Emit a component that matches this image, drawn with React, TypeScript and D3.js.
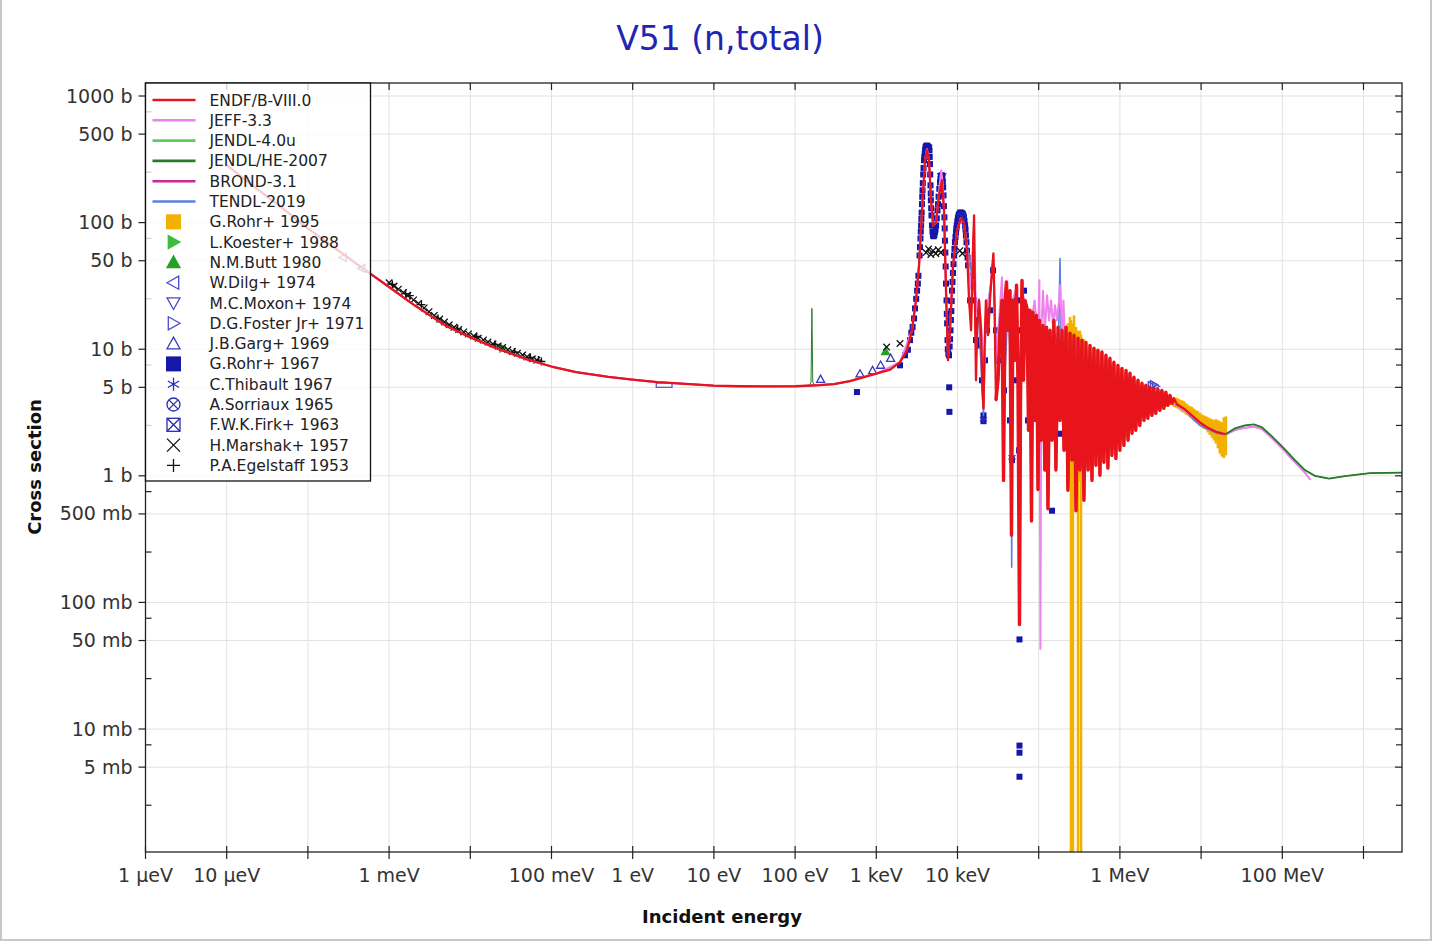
import React from "react";
import * as d3 from "d3";

// energies in eV, cross sections in barns

// 1/v region, shared by all evaluations at this scale
const lowRegion: [number, number][] = [
  [1e-5, 285], [2e-5, 200], [5e-5, 128], [1e-4, 90], [2e-4, 65], [5e-4, 42.5],
  [1e-3, 31], [2e-3, 22.5], [5e-3, 15.3], [1e-2, 12.4], [2e-2, 10.3], [5e-2, 8.3],
  [0.1, 7.3], [0.2, 6.6], [0.5, 6.05], [1, 5.75], [2, 5.5], [5, 5.3], [10, 5.15],
  [20, 5.1], [50, 5.08], [100, 5.1], [200, 5.2], [300, 5.3], [474, 5.6],
];

const endfResonances: [number, number][] = [
  [1.02e3, 6.45], [1.48e3, 6.9], [1.96e3, 7.9], [2.39e3, 9.8], [2.75e3, 14.1], [3.08e3, 24.3],
  [3.36e3, 46], [3.66e3, 125], [3.98e3, 311], [4.21e3, 372], [4.46e3, 311], [4.72e3, 150],
  [5.0e3, 95], [5.44e3, 100], [5.92e3, 164], [6.44e3, 216], [6.82e3, 125], [7.22e3, 29],
  [7.64e3, 8.2], [8.09e3, 14.1], [8.81e3, 46], [9.87e3, 87], [1.1e4, 108], [1.2e4, 100],
];

const endfUnresolved: [number, number][] = [
  [1.31e4, 60], [1.39e4, 24.3], [1.47e4, 14.1], [1.55e4, 60], [1.6e4, 114], [1.64e4, 24.3],
  [1.69e4, 5.68], [1.74e4, 14.1], [1.84e4, 24.3], [1.95e4, 14.1], [2.03e4, 4.73], [2.09e4, 3.41],
  [2.15e4, 9.8], [2.24e4, 24.3], [2.38e4, 12.9], [2.51e4, 24.3], [2.66e4, 42], [2.77e4, 57],
  [2.85e4, 24.3], [2.98e4, 3.95], [3.15e4, 5.68], [3.34e4, 14.1], [3.53e4, 24.3], [3.69e4, 0.92],
  [3.85e4, 24.3], [4.01e4, 34], [4.19e4, 14.1], [4.43e4, 29], [4.62e4, 0.34], [4.82e4, 24.3],
  [5.1e4, 8.17], [5.33e4, 32], [5.56e4, 5.68], [5.8e4, 0.067], [5.97e4, 3.95], [6.23e4, 35],
  [6.5e4, 5.68], [6.78e4, 24.3], [7.18e4, 21], [7.49e4, 2.29], [7.81e4, 20.3], [8.15e4, 0.44],
  [8.51e4, 19.6], [9.0e4, 2.74], [9.4e4, 18.5], [9.8e4, 0.78], [1.02e5, 16.9], [1.07e5, 1.91],
  [1.13e5, 15.4], [1.19e5, 1.11], [1.25e5, 14.9], [1.3e5, 0.55], [1.38e5, 14.1], [1.46e5, 1.91],
  [1.54e5, 16.9], [1.63e5, 1.11], [1.73e5, 14.9], [1.83e5, 2.74], [1.94e5, 14.1], [2.05e5, 1.59],
  [2.17e5, 14.9], [2.29e5, 0.77], [2.43e5, 13.4], [2.57e5, 1.33], [2.72e5, 12.9], [2.88e5, 0.53],
  [3.05e5, 12.2], [3.22e5, 1.11], [3.41e5, 11.8], [3.61e5, 0.64], [3.82e5, 11.3], [4.05e5, 1.11],
  [4.28e5, 10.7], [4.53e5, 0.92], [4.79e5, 10.2], [5.07e5, 1.21], [5.37e5, 9.8], [5.68e5, 1.01],
  [6.01e5, 9.5], [6.36e5, 1.28], [6.73e5, 8.95], [7.12e5, 1.15], [7.54e5, 8.48], [7.98e5, 1.45],
  [8.44e5, 7.88], [8.93e5, 1.37], [9.46e5, 7.46], [1.0e6, 1.59], [1.06e6, 7.06], [1.12e6, 1.74],
  [1.19e6, 6.81], [1.26e6, 1.91], [1.33e6, 6.45], [1.41e6, 2.17], [1.49e6, 6.0], [1.57e6, 2.29],
  [1.67e6, 5.68], [1.76e6, 2.5], [1.87e6, 5.38], [1.98e6, 2.74], [2.09e6, 5.19], [2.21e6, 2.85],
  [2.34e6, 5.0], [2.48e6, 3.0], [2.62e6, 4.91], [2.77e6, 3.12], [2.94e6, 4.82], [3.11e6, 3.29],
  [3.29e6, 4.73], [3.48e6, 3.41], [3.68e6, 4.57], [3.9e6, 3.61], [4.13e6, 4.32], [4.37e6, 3.74],
  [4.62e6, 4.09],
];

const endfFast: [number, number][] = [
  [5.03e6, 3.67], [6.31e6, 3.35], [7.92e6, 2.95], [9.67e6, 2.64], [1.18e7, 2.42],
  [1.4e7, 2.29], [1.57e7, 2.21], [1.86e7, 2.15], [2.0e7, 2.13],
];

const jeffResonances: [number, number][] = [
  [1.02e3, 6.45], [1.96e3, 7.9], [2.75e3, 14.1], [3.08e3, 24.3], [3.36e3, 46], [3.66e3, 125],
  [3.98e3, 311], [4.21e3, 380], [4.46e3, 311], [4.72e3, 150], [5.0e3, 95], [5.44e3, 100],
  [5.92e3, 175], [6.3e3, 259], [6.6e3, 200], [6.9e3, 110], [7.22e3, 29], [7.64e3, 8.5],
  [8.09e3, 14], [8.81e3, 46], [9.87e3, 87], [1.1e4, 108], [1.2e4, 100], [1.31e4, 60],
  [1.47e4, 30], [1.6e4, 90], [1.69e4, 20],
];

const jeffMid: [number, number][] = [
  [1.84e4, 25], [2.0e4, 12], [2.09e4, 4], [2.24e4, 20], [2.51e4, 28], [2.77e4, 50], [2.98e4, 8],
  [3.34e4, 22], [3.53e4, 37], [3.69e4, 5], [4.01e4, 30], [4.43e4, 20], [4.62e4, 2.1], [4.82e4, 25],
  [5.33e4, 30], [5.8e4, 2], [6.23e4, 30], [7.18e4, 19], [7.81e4, 6], [8.51e4, 20], [8.9e4, 24.3],
  [9.8e4, 11.8], [1.02e5, 35], [1.05e5, 0.043], [1.08e5, 14.1], [1.13e5, 29], [1.19e5, 14.1],
  [1.27e5, 26.7], [1.34e5, 16.9], [1.42e5, 24.3], [1.5e5, 15.4], [1.59e5, 22.2], [1.68e5, 16.9],
  [1.78e5, 24.3], [1.83e5, 32], [1.94e5, 14.1], [2.02e5, 24.3], [2.11e5, 10.7], [2.43e5, 5],
  [2.88e5, 12], [4.05e5, 8], [6.0e5, 7], [1.0e6, 5], [1.5e6, 4.6], [2.34e6, 4.2], [3.48e6, 4.0],
];

const jeffHigh: [number, number][] = [
  [5.03e6, 3.65], [7.92e6, 2.9], [1.18e7, 2.4], [2.0e7, 2.12], [2.61e7, 2.3], [3.47e7, 2.4],
  [4.48e7, 2.44], [5.62e7, 2.34], [7.46e7, 1.98], [1.02e8, 1.62], [1.43e8, 1.28], [1.9e8, 1.06],
  [2.22e8, 0.93],
];

const jendlHeSpike: [number, number][] = [
  [150, 5.1], [157, 5.5], [161, 21], [165, 5.5], [175, 5.15],
];

const jendlHeHigh: [number, number][] = [
  [2.61e7, 2.37], [3.47e7, 2.5], [4.48e7, 2.55], [5.62e7, 2.42], [7.46e7, 2.05], [1.02e8, 1.68],
  [1.43e8, 1.33], [1.9e8, 1.11], [2.52e8, 1.0], [3.76e8, 0.95], [5.91e8, 0.996], [1.2e9, 1.05],
  [2.98e9, 1.06],
];

const tendlMid: [number, number][] = [
  [1.84e4, 16], [2.09e4, 3.0], [2.24e4, 18], [2.77e4, 45], [2.98e4, 10], [3.53e4, 25], [3.69e4, 3],
  [4.19e4, 25], [4.55e4, 6], [4.65e4, 0.19], [4.75e4, 6], [5.33e4, 28], [5.8e4, 0.5], [6.23e4, 30],
  [7.49e4, 5], [8.51e4, 18], [9.8e4, 3], [1.13e5, 15], [1.3e5, 2], [1.54e5, 14], [1.75e5, 10],
  [1.83e5, 52], [1.9e5, 10], [2.29e5, 3], [2.72e5, 12], [3.41e5, 2], [4.28e5, 10], [5.68e5, 2.5],
  [7.54e5, 8], [1.0e6, 3.2], [1.33e6, 6], [1.76e6, 4.5], [2.34e6, 4.2],
];

const tendlHigh: [number, number][] = [
  [3.11e6, 4.1], [3.9e6, 3.9], [5.03e6, 3.6], [6.31e6, 3.25], [7.92e6, 2.8], [9.67e6, 2.5],
  [1.18e7, 2.35], [1.57e7, 2.17], [2.0e7, 2.12], [2.61e7, 2.3], [3.47e7, 2.4], [4.48e7, 2.44],
  [5.62e7, 2.35], [7.46e7, 2.0], [1.02e8, 1.63], [1.43e8, 1.3], [2.0e8, 1.02],
];

// experimental data
// G.Rohr+ 1995: [E, low, high] of each error bar
const rohr1995: [number, number, number][] = [
  [2.29e5, 0.8, 16], [2.43e5, 0.9, 18], [2.5e5, 1e-4, 17], [2.64e5, 1e-4, 16], [2.72e5, 0.7, 18.5],
  [2.88e5, 1.0, 15], [3.05e5, 1e-4, 14], [3.22e5, 0.9, 14], [3.32e5, 1e-4, 13], [3.61e5, 1.0, 12],
  [4.28e5, 1.1, 11], [5.07e5, 1.2, 10], [6.01e5, 1.3, 9.2], [7.12e5, 1.4, 8.3], [8.44e5, 1.6, 7.6],
  [1.0e6, 1.8, 7.0], [1.19e6, 2.0, 6.6], [1.41e6, 2.3, 6.0], [1.67e6, 2.6, 5.6], [1.98e6, 2.9, 5.2],
  [2.34e6, 3.1, 4.9], [2.62e6, 3.2, 4.7], [3.11e6, 3.4, 4.6], [3.68e6, 3.5, 4.4], [4.13e6, 3.6, 4.3],
  [4.62e6, 3.5, 4.2], [4.9e6, 3.45, 4.15], [5.18e6, 3.4, 4.1], [5.48e6, 3.3, 4.0], [5.8e6, 3.2, 3.95],
  [6.14e6, 3.15, 3.9], [6.5e6, 3.05, 3.75], [6.88e6, 3.0, 3.65], [7.28e6, 2.9, 3.55], [7.7e6, 2.85, 3.5],
  [8.15e6, 2.75, 3.4], [8.63e6, 2.65, 3.3], [9.13e6, 2.6, 3.25], [9.66e6, 2.5, 3.15], [1.02e7, 2.45, 3.05],
  [1.08e7, 2.35, 3.0], [1.15e7, 2.3, 2.95], [1.21e7, 2.2, 2.9], [1.28e7, 2.1, 2.85], [1.36e7, 2.0, 2.8],
  [1.44e7, 1.9, 2.75], [1.52e7, 1.8, 2.8], [1.61e7, 1.65, 2.75], [1.7e7, 1.5, 2.7], [1.8e7, 1.42, 2.65],
  [1.91e7, 1.38, 2.9], [2.02e7, 1.45, 2.95],
];

const koester1988: [number, number][] = [[2.53e-2, 10.2]];
const butt1980: [number, number][] = [[1.3e3, 9.6]];
const dilg1974: [number, number][] = [[2.7e-4, 53], [4.6e-4, 43.5]];
const moxon1974: [number, number][] = [[4.3e3, 385], [6.4e3, 230]];
const foster1971: [number, number][] = [[2.45e6, 5.15], [2.6e6, 5.25], [2.75e6, 5.1]];
const garg1969: [number, number][] = [[206, 5.8], [630, 6.4], [900, 6.8], [1.13e3, 7.5], [1.5e3, 8.5]];
const rohr1967: [number, number][] = [
  [578, 4.59], [1.96e3, 7.46], [2.26e3, 8.95], [2.45e3, 9.9], [2.6e3, 11.8], [2.7e3, 13.5],
  [2.8e3, 15], [2.92e3, 17.5], [3.0e3, 21], [3.1e3, 25], [3.18e3, 29], [3.25e3, 33], [3.3e3, 38],
  [3.41e3, 55], [3.45e3, 64], [3.5e3, 75], [3.53e3, 85], [3.56e3, 95], [3.59e3, 107], [3.62e3, 120],
  [3.65e3, 140], [3.68e3, 160], [3.71e3, 180], [3.74e3, 205], [3.78e3, 240], [3.82e3, 270],
  [3.87e3, 311], [3.91e3, 330], [3.95e3, 350], [3.99e3, 375], [4.04e3, 393], [4.1e3, 400],
  [4.15e3, 405], [4.21e3, 405], [4.27e3, 401], [4.34e3, 398], [4.4e3, 395], [4.46e3, 385],
  [4.52e3, 372], [4.55e3, 330], [4.58e3, 290], [4.61e3, 240], [4.65e3, 197], [4.68e3, 170],
  [4.7e3, 150], [4.74e3, 130], [4.78e3, 114], [4.85e3, 95], [4.92e3, 85], [4.99e3, 79],
  [5.1e3, 78], [5.2e3, 80], [5.28e3, 84], [5.37e3, 88], [5.45e3, 95], [5.56e3, 108], [5.67e3, 125],
  [5.76e3, 140], [5.85e3, 160], [5.97e3, 185], [6.09e3, 208], [6.17e3, 222], [6.25e3, 230],
  [6.35e3, 236], [6.44e3, 236], [6.52e3, 228], [6.6e3, 210], [6.66e3, 190], [6.73e3, 164],
  [6.8e3, 135], [6.9e3, 110], [6.96e3, 90], [7.02e3, 72], [7.08e3, 58], [7.15e3, 45], [7.22e3, 33],
  [7.33e3, 24.3], [7.39e3, 19], [7.45e3, 16], [7.54e3, 11.8], [7.6e3, 10], [7.72e3, 9.2],
  [7.86e3, 8.95], [7.9e3, 5], [7.95e3, 3.2], [8.0e3, 10.5], [8.1e3, 12], [8.2e3, 14.1], [8.3e3, 17],
  [8.4e3, 20], [8.48e3, 24], [8.56e3, 29], [8.68e3, 34], [8.8e3, 40], [8.93e3, 47], [9.06e3, 55],
  [9.18e3, 62], [9.3e3, 70], [9.45e3, 77], [9.59e3, 84], [9.7e3, 90], [9.8e3, 95], [9.95e3, 102],
  [1.01e4, 108], [1.025e4, 112], [1.04e4, 115], [1.055e4, 117], [1.07e4, 118], [1.085e4, 120],
  [1.1e4, 120], [1.12e4, 119], [1.14e4, 118], [1.155e4, 117], [1.17e4, 116], [1.185e4, 113],
  [1.2e4, 110], [1.22e4, 103], [1.24e4, 95], [1.255e4, 88], [1.27e4, 79], [1.29e4, 70],
  [1.31e4, 60], [1.33e4, 53], [1.35e4, 46], [1.43e4, 24.3], [1.51e4, 38], [1.6e4, 24.3],
  [1.69e4, 11.8], [1.79e4, 16.9], [1.89e4, 10.7], [2.0e4, 5.68], [2.09e4, 3.0], [2.09e4, 2.7],
  [2.18e4, 8.17], [2.31e4, 14.1], [2.51e4, 20.3], [2.74e4, 42], [2.98e4, 14.1], [3.24e4, 8.17],
  [3.53e4, 11.8], [3.74e4, 4.73], [4.07e4, 16.9], [4.43e4, 2.74], [4.69e4, 1.33], [4.97e4, 5.68],
  [5.41e4, 24.3], [5.73e4, 1.59], [5.8e4, 0.051], [5.8e4, 0.0074], [5.8e4, 0.0065], [5.8e4, 0.0042],
  [6.05e4, 14.1], [6.59e4, 29], [7.39e4, 2.74], [8.28e4, 9.8], [1.46e5, 0.53], [1.88e5, 2.15],
];
const thibault1967: [number, number][] = [[2.09e4, 2.8], [4.69e4, 1.4]];
const sorriaux1965: [number, number][] = [[1.14e4, 112]];
// F.W.K.Firk+ 1963: [E, Elow, Ehigh, sigma, sigmaLow, sigmaHigh]
const firk1963: [number, number, number, number, number, number][] = [[2.45, 1.95, 3.05, 5.2, 5.0, 5.4]];
const marshak1957: [number, number][] = [
  [1.0e-3, 33.5], [1.15e-3, 31.5], [1.3e-3, 29.8], [1.5e-3, 28], [1.7e-3, 26.5], [2.0e-3, 24.5],
  [2.3e-3, 23], [2.7e-3, 21.2], [3.1e-3, 19.8], [3.6e-3, 18.5], [4.2e-3, 17.3], [4.8e-3, 16.4],
  [5.5e-3, 15.6], [6.3e-3, 14.9], [7.2e-3, 14.3], [8.3e-3, 13.7], [9.5e-3, 13.2], [1.1e-2, 12.7],
  [1.25e-2, 12.2], [1.45e-2, 11.8], [1.65e-2, 11.4], [1.9e-2, 11.0], [2.2e-2, 10.6], [2.5e-2, 10.3],
  [2.9e-2, 9.9], [3.3e-2, 9.6], [3.8e-2, 9.3], [4.4e-2, 9.0], [5.0e-2, 8.7], [5.8e-2, 8.4],
  [6.6e-2, 8.2], [1.34e3, 10.4], [1.96e3, 11.1], [4.1e3, 58], [4.4e3, 62], [4.7e3, 56],
  [5.0e3, 60], [5.4e3, 57], [5.8e3, 61], [6.2e3, 58], [1.07e4, 60], [1.15e4, 57],
];
const egelstaff1953: [number, number][] = [
  [1.1e-3, 32.5], [1.6e-3, 27.5], [1.8e-3, 26.5], [2.5e-3, 22.5], [4e-3, 17.5], [7e-3, 14.5],
  [1.2e-2, 12.6], [2e-2, 10.9], [3.5e-2, 9.5], [5.5e-2, 8.6], [6.9e-2, 8.2], [7.5e-2, 8.0],
];

// axis ticks
const yTickValues = [1000, 500, 100, 50, 10, 5, 1, 0.5, 0.1, 0.05, 0.01, 0.005];
const yTickLabels = ["1000 b", "500 b", "100 b", "50 b", "10 b", "5 b", "1 b", "500 mb", "100 mb", "50 mb", "10 mb", "5 mb"];
const yMinorTicks = [750, 250, 75, 25, 7.5, 2.5, 0.75, 0.25, 0.075, 0.025, 0.0075, 0.0025];
const xTickValues = [1e-6, 1e-5, 1e-4, 1e-3, 1e-2, 1e-1, 1, 10, 100, 1e3, 1e4, 1e5, 1e6, 1e7, 1e8, 1e9];
const xTickLabels = ["1 μeV", "10 μeV", "", "1 meV", "", "100 meV", "1 eV", "10 eV", "100 eV", "1 keV", "10 keV", "", "1 MeV", "", "100 MeV", ""];

const FONT = "'DejaVu Sans', Verdana, sans-serif";

const lib = {
  endf: [...lowRegion, ...endfResonances, ...endfUnresolved, ...endfFast],
  jeff: [...lowRegion, ...jeffResonances, ...jeffMid, ...jeffHigh],
  jendlHe: [
    ...lowRegion.filter((d) => d[0] < 150),
    ...jendlHeSpike,
    ...lowRegion.filter((d) => d[0] > 175),
    ...endfResonances, ...endfUnresolved, ...endfFast, ...jendlHeHigh,
  ],
  tendl: [...lowRegion, ...endfResonances, ...tendlMid, ...tendlHigh],
};

type Shape =
  | "square" | "triRight" | "triUp" | "triLeft" | "triDown" | "asterisk"
  | "circleX" | "squareX" | "cross" | "plus";

const Marker = (props: { shape: Shape; cx: number; cy: number; r: number; color: string; filled?: boolean }) => {
  const { shape, cx, cy, r, color, filled } = props;
  const fill = filled ? color : "none";
  const sw = 1.3;
  switch (shape) {
    case "square":
      return <rect x={cx - r} y={cy - r} width={2 * r} height={2 * r} fill={fill} stroke={color} strokeWidth={filled ? 0 : sw} />;
    case "squareX":
      return (
        <g stroke={color} strokeWidth={sw} fill="none">
          <rect x={cx - r} y={cy - r} width={2 * r} height={2 * r} />
          <path d={`M${cx - r},${cy - r}L${cx + r},${cy + r}M${cx - r},${cy + r}L${cx + r},${cy - r}`} />
        </g>
      );
    case "circleX": {
      const k = r * 0.707;
      return (
        <g stroke={color} strokeWidth={sw} fill="none">
          <circle cx={cx} cy={cy} r={r} />
          <path d={`M${cx - k},${cy - k}L${cx + k},${cy + k}M${cx - k},${cy + k}L${cx + k},${cy - k}`} />
        </g>
      );
    }
    case "triUp":
      return <polygon points={`${cx},${cy - r} ${cx + r},${cy + r * 0.8} ${cx - r},${cy + r * 0.8}`} fill={fill} stroke={color} strokeWidth={sw} />;
    case "triDown":
      return <polygon points={`${cx},${cy + r} ${cx + r},${cy - r * 0.8} ${cx - r},${cy - r * 0.8}`} fill={fill} stroke={color} strokeWidth={sw} />;
    case "triRight":
      return <polygon points={`${cx + r},${cy} ${cx - r * 0.8},${cy - r} ${cx - r * 0.8},${cy + r}`} fill={fill} stroke={color} strokeWidth={sw} />;
    case "triLeft":
      return <polygon points={`${cx - r},${cy} ${cx + r * 0.8},${cy - r} ${cx + r * 0.8},${cy + r}`} fill={fill} stroke={color} strokeWidth={sw} />;
    case "asterisk": {
      const k = r * 0.866;
      return (
        <path
          d={`M${cx},${cy - r}L${cx},${cy + r}M${cx - k},${cy - r / 2}L${cx + k},${cy + r / 2}M${cx - k},${cy + r / 2}L${cx + k},${cy - r / 2}`}
          stroke={color} strokeWidth={sw}
        />
      );
    }
    case "cross":
      return <path d={`M${cx - r},${cy - r}L${cx + r},${cy + r}M${cx - r},${cy + r}L${cx + r},${cy - r}`} stroke={color} strokeWidth={sw} />;
    case "plus":
      return <path d={`M${cx - r},${cy}L${cx + r},${cy}M${cx},${cy - r}L${cx},${cy + r}`} stroke={color} strokeWidth={sw} />;
  }
  return null;
};

const lineEntries = [
  { name: "ENDF/B-VIII.0", color: "#e8141c" },
  { name: "JEFF-3.3", color: "#ee82ee" },
  { name: "JENDL-4.0u", color: "#5ccc5c" },
  { name: "JENDL/HE-2007", color: "#2a7a2a" },
  { name: "BROND-3.1", color: "#c8289a" },
  { name: "TENDL-2019", color: "#5a7fe0" },
];

const markerEntries: { name: string; shape: Shape; color: string; filled: boolean; data: [number, number][] }[] = [
  { name: "G.Rohr+ 1995", shape: "square", color: "#f2b000", filled: true, data: [] },
  { name: "L.Koester+ 1988", shape: "triRight", color: "#3cbc3c", filled: true, data: koester1988 },
  { name: "N.M.Butt 1980", shape: "triUp", color: "#27a027", filled: true, data: butt1980 },
  { name: "W.Dilg+ 1974", shape: "triLeft", color: "#4a4acc", filled: false, data: dilg1974 },
  { name: "M.C.Moxon+ 1974", shape: "triDown", color: "#4a4acc", filled: false, data: moxon1974 },
  { name: "D.G.Foster Jr+ 1971", shape: "triRight", color: "#4a4acc", filled: false, data: foster1971 },
  { name: "J.B.Garg+ 1969", shape: "triUp", color: "#3a3ab8", filled: false, data: garg1969 },
  { name: "G.Rohr+ 1967", shape: "square", color: "#1616a8", filled: true, data: rohr1967 },
  { name: "C.Thibault 1967", shape: "asterisk", color: "#2a2ac0", filled: false, data: thibault1967 },
  { name: "A.Sorriaux 1965", shape: "circleX", color: "#2a2ab0", filled: false, data: sorriaux1965 },
  { name: "F.W.K.Firk+ 1963", shape: "squareX", color: "#2a2ab0", filled: false, data: [] },
  { name: "H.Marshak+ 1957", shape: "cross", color: "#111", filled: false, data: marshak1957 },
  { name: "P.A.Egelstaff 1953", shape: "plus", color: "#111", filled: false, data: egelstaff1953 },
];

export default function App() {
  const left = 145.5, right = 1402, top = 83, bottom = 852;
  const x = d3.scaleLog().domain([1e-6, 2.98e9]).range([left, right]);
  const y = d3.scaleLog().domain([1.068e-3, 1267]).range([bottom, top]);
  const line = d3
    .line<[number, number]>()
    .x((d) => x(d[0]))
    .y((d) => y(d[1]));

  const markerSize: Record<string, number> = {
    "G.Rohr+ 1967": 3,
    "H.Marshak+ 1957": 3.3,
    "P.A.Egelstaff 1953": 4,
  };

  // drawn bottom to top; the ones hidden under ENDF are kept thin so they do not fringe it
  const libsDrawn = [
    { color: "#5a7fe0", data: lib.tendl, w: 1.6 },
    { color: "#c8289a", data: lib.endf, w: 1.0 },
    { color: "#5ccc5c", data: lib.endf, w: 1.0 },
    { color: "#2a7a2a", data: lib.jendlHe, w: 1.0 },
    { color: "#ee82ee", data: lib.jeff, w: 2.0 },
    { color: "#e8141c", data: lib.endf, w: 2.3 },
  ];
  const heTail = [...endfFast.slice(-1), ...jendlHeHigh];
  // the dense fluctuating part looks like a solid band in the original, so stroke it heavier
  const endfDense = endfUnresolved.filter((d) => d[0] >= 2.9e4);

  const legendX = left, legendY = top, legendW = 225, legendH = 398;
  const rowH = 20.3;

  return (
    <svg
      width={1435}
      height={945}
      style={{ position: "absolute", left: 0, top: 0, background: "#fff" }}
      fontFamily={FONT}
    >
      <defs>
        <clipPath id="plot">
          <rect x={left} y={top} width={right - left} height={bottom - top} />
        </clipPath>
      </defs>
      <rect x={1} y={-2} width={1430} height={942} fill="none" stroke="#c8c8c8" strokeWidth={2} />

      <text x={720} y={50} textAnchor="middle" fontSize={33} fill="#2424b4">
        V51 (n,total)
      </text>

      {/* grid */}
      <g stroke="#e2e2e2" strokeWidth={1}>
        {xTickValues.map((v, i) => (
          <line key={i} x1={x(v)} x2={x(v)} y1={top} y2={bottom} />
        ))}
        {yTickValues.map((v, i) => (
          <line key={i} x1={left} x2={right} y1={y(v)} y2={y(v)} />
        ))}
      </g>

      <g clipPath="url(#plot)">
        {rohr1995.map((d, i) => (
          <line key={i} x1={x(d[0])} x2={x(d[0])} y1={y(d[1])} y2={y(d[2])} stroke="#f2b000" strokeWidth={2.6} />
        ))}
        {firk1963.map((d, i) => (
          <rect
            key={i}
            x={x(d[1])}
            y={y(d[5])}
            width={x(d[2]) - x(d[1])}
            height={y(d[4]) - y(d[5])}
            fill="none"
            stroke="#5050d0"
            strokeWidth={1.2}
          />
        ))}
        {markerEntries.map((m) =>
          m.data.map((d, i) => (
            <Marker
              key={m.name + i}
              shape={m.shape}
              cx={x(d[0])}
              cy={y(d[1])}
              r={markerSize[m.name] ?? 4}
              color={m.color}
              filled={m.filled}
            />
          ))
        )}
        {libsDrawn.map((s, i) => (
          <path key={i} d={line(s.data) ?? ""} fill="none" stroke={s.color} strokeWidth={s.w} strokeLinejoin="round" />
        ))}
        <path d={line(endfDense) ?? ""} fill="none" stroke="#e8141c" strokeWidth={3.4} strokeLinejoin="round" />
        <path d={line(heTail) ?? ""} fill="none" stroke="#2a7a2a" strokeWidth={1.8} />
      </g>

      {/* frame and ticks */}
      <rect x={left} y={top} width={right - left} height={bottom - top} fill="none" stroke="#222" strokeWidth={1.3} />
      <g stroke="#222" strokeWidth={1.2}>
        {xTickValues.map((v, i) => (
          <g key={i}>
            <line x1={x(v)} x2={x(v)} y1={bottom - 6} y2={bottom + 7} />
            <line x1={x(v)} x2={x(v)} y1={top} y2={top + 7} />
          </g>
        ))}
        {yTickValues.map((v, i) => (
          <g key={i}>
            <line x1={left - 7} x2={left} y1={y(v)} y2={y(v)} />
            <line x1={right - 7} x2={right} y1={y(v)} y2={y(v)} />
          </g>
        ))}
        {yMinorTicks.map((v, i) => (
          <g key={i}>
            <line x1={left} x2={left + 6} y1={y(v)} y2={y(v)} />
            <line x1={right - 6} x2={right} y1={y(v)} y2={y(v)} />
          </g>
        ))}
      </g>
      <g fontSize={19} fill="#333">
        {yTickValues.map((v, i) => (
          <text key={i} x={left - 13} y={y(v) + 6.5} textAnchor="end">
            {yTickLabels[i]}
          </text>
        ))}
        {xTickValues.map((v, i) => (
          <text key={i} x={x(v)} y={bottom + 30} textAnchor="middle">
            {xTickLabels[i]}
          </text>
        ))}
      </g>
      <text x={722} y={923} textAnchor="middle" fontSize={18} fontWeight="bold" fill="#111">
        Incident energy
      </text>
      <text
        transform={`translate(41,467) rotate(-90)`}
        textAnchor="middle"
        fontSize={18}
        fontWeight="bold"
        fill="#111"
      >
        Cross section
      </text>

      {/* legend */}
      <g>
        <rect x={legendX} y={legendY} width={legendW} height={legendH} fill="#fff" fillOpacity={0.78} stroke="#111" strokeWidth={1.3} />
        <g fontSize={15.5} fill="#222">
          {lineEntries.map((e, i) => {
            const cy = legendY + 17 + i * rowH;
            return (
              <g key={e.name}>
                <line x1={legendX + 7} x2={legendX + 50} y1={cy} y2={cy} stroke={e.color} strokeWidth={2.6} />
                <text x={legendX + 64} y={cy + 5.5}>
                  {e.name}
                </text>
              </g>
            );
          })}
          {markerEntries.map((m, i) => {
            const cy = legendY + 17 + (i + lineEntries.length) * rowH;
            return (
              <g key={m.name}>
                <Marker shape={m.shape} cx={legendX + 28} cy={cy} r={m.shape === "square" ? 7.5 : 6.5} color={m.color} filled={m.filled} />
                <text x={legendX + 64} y={cy + 5.5}>
                  {m.name}
                </text>
              </g>
            );
          })}
        </g>
      </g>
    </svg>
  );
}
